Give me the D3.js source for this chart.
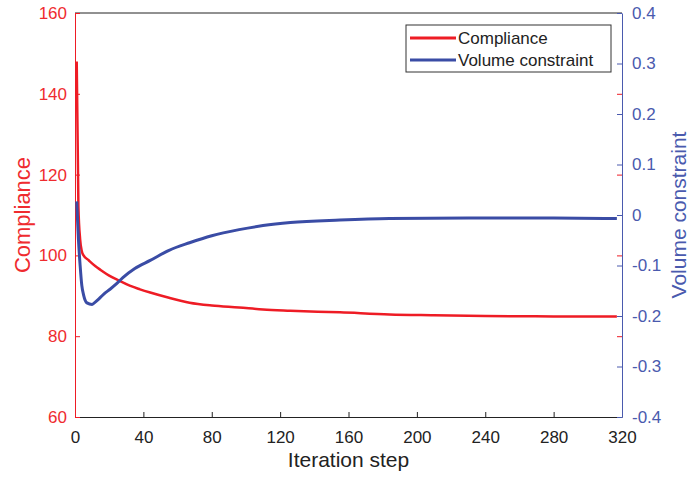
<!DOCTYPE html>
<html>
<head>
<meta charset="utf-8">
<script src="https://cdn.jsdelivr.net/npm/d3@7"></script>
<style>
  body { margin: 0; background: #fff; }
  svg { font-family: "Liberation Sans", Arial, sans-serif; }
</style>
</head>
<body>
<svg id="chart" width="693" height="478"></svg>
<script>
// Compliance (left axis)
var compSteps = [1, 2, 3, 4, 5, 8, 12, 15, 20, 26, 32, 38, 44, 55, 67, 80, 96, 110, 126, 155, 184, 210, 240, 280, 317];
var compValues = [148, 112, 104, 101, 100, 98.8, 97.3, 96.4, 95, 93.7, 92.5, 91.6, 90.8, 89.5, 88.3, 87.6, 87.1, 86.6, 86.3, 85.9, 85.4, 85.2, 85.0, 84.9, 84.9];

// Volume constraint (right axis)
var volSteps = [1, 2, 3, 4, 5, 7, 10, 12, 14, 17, 20.5, 24, 28, 35, 44, 55, 67, 80, 96, 110, 126, 155, 184, 230, 280, 317];
var volValues = [0.027, -0.048, -0.10, -0.14, -0.158, -0.174, -0.177, -0.172, -0.166, -0.156, -0.147, -0.137, -0.124, -0.106, -0.09, -0.07, -0.055, -0.041, -0.029, -0.021, -0.015, -0.010, -0.007, -0.006, -0.006, -0.007];

var xTicks = [0, 40, 80, 120, 160, 200, 240, 280, 320];
var leftTicks = [60, 80, 100, 120, 140, 160];
var rightTicks = [-0.4, -0.3, -0.2, -0.1, 0, 0.1, 0.2, 0.3, 0.4];

var red = '#ee1c25', redText = '#ef2b2f';
var blue = '#3a4ca5', blueAxis = '#4a5aae';

var svg = d3.select('#chart');
var margin = { top: 13, right: 71, bottom: 61, left: 75 };
var width = 693, height = 478;

var x = d3.scaleLinear().domain([0, 320]).range([margin.left, width - margin.right]);
var yL = d3.scaleLinear().domain([60, 160]).range([height - margin.bottom, margin.top]);
var yR = d3.scaleLinear().domain([-0.4, 0.4]).range([height - margin.bottom, margin.top]);

// top border
svg.append('line')
  .attr('x1', x(0)).attr('x2', x(320))
  .attr('y1', margin.top).attr('y2', margin.top)
  .attr('stroke', '#222').attr('stroke-width', 1);

// bottom axis
var gx = svg.append('g')
  .attr('transform', 'translate(0,' + (height - margin.bottom) + ')')
  .call(d3.axisBottom(x).tickValues(xTicks).tickSize(-5).tickSizeOuter(0).tickPadding(14));
gx.selectAll('path, line').attr('stroke', '#222');
gx.selectAll('text').attr('fill', '#222').style('font-size', '17px');

// left axis (red)
var gl = svg.append('g')
  .attr('transform', 'translate(' + margin.left + ',0)')
  .call(d3.axisLeft(yL).tickValues(leftTicks).tickSize(-5).tickSizeOuter(0).tickPadding(8));
gl.selectAll('path, line').attr('stroke', red);
gl.selectAll('text').attr('fill', redText).style('font-size', '17px');

// red ticks repeated on the right edge
var glr = svg.append('g')
  .attr('transform', 'translate(' + (width - margin.right) + ',0)')
  .call(d3.axisRight(yL).tickValues(leftTicks.slice(1, -1)).tickSize(-5).tickFormat(''));
glr.select('.domain').remove();
glr.selectAll('line').attr('stroke', red);

// right axis (blue)
var gr = svg.append('g')
  .attr('transform', 'translate(' + (width - margin.right) + ',0)')
  .call(d3.axisRight(yR).tickValues(rightTicks).tickSize(-5).tickSizeOuter(0).tickPadding(10)
    .tickFormat(function(d) { return d === 0 ? '0' : d.toFixed(1); }));
gr.selectAll('path, line').attr('stroke', blueAxis);
gr.selectAll('text').attr('fill', blueAxis).style('font-size', '17px');

// lines
var compLine = d3.line()
  .x(function(d, i) { return x(compSteps[i]); })
  .y(function(d) { return yL(d); })
  .curve(d3.curveMonotoneX);
var volLine = d3.line()
  .x(function(d, i) { return x(volSteps[i]); })
  .y(function(d) { return yR(d); })
  .curve(d3.curveMonotoneX);

svg.append('path').datum(compValues)
  .attr('d', compLine).attr('fill', 'none')
  .attr('stroke', red).attr('stroke-width', 2.5);
svg.append('path').datum(volValues)
  .attr('d', volLine).attr('fill', 'none')
  .attr('stroke', blue).attr('stroke-width', 3);

// axis titles
svg.append('text')
  .attr('x', (x(0) + x(320)) / 2).attr('y', 467)
  .attr('text-anchor', 'middle').attr('fill', '#222')
  .style('font-size', '21px').text('Iteration step');

svg.append('text')
  .attr('transform', 'translate(30,' + ((margin.top + height - margin.bottom) / 2) + ') rotate(-90)')
  .attr('text-anchor', 'middle').attr('fill', redText)
  .style('font-size', '22px').text('Compliance');

svg.append('text')
  .attr('transform', 'translate(686,' + ((margin.top + height - margin.bottom) / 2) + ') rotate(-90)')
  .attr('text-anchor', 'middle').attr('fill', blueAxis)
  .style('font-size', '21px').text('Volume constraint');

// legend
var legend = svg.append('g');
legend.append('rect')
  .attr('x', 406).attr('y', 25).attr('width', 205).attr('height', 47)
  .attr('fill', '#fff').attr('stroke', '#333').attr('stroke-width', 1);
var items = [
  { name: 'Compliance', color: red, y: 38 },
  { name: 'Volume constraint', color: blue, y: 60 }
];
items.forEach(function(it) {
  legend.append('line')
    .attr('x1', 410).attr('x2', 456).attr('y1', it.y).attr('y2', it.y)
    .attr('stroke', it.color).attr('stroke-width', 3);
  legend.append('text')
    .attr('x', 458).attr('y', it.y).attr('dy', '0.35em')
    .attr('fill', '#222').style('font-size', '17px').text(it.name);
});
</script>
</body>
</html>
